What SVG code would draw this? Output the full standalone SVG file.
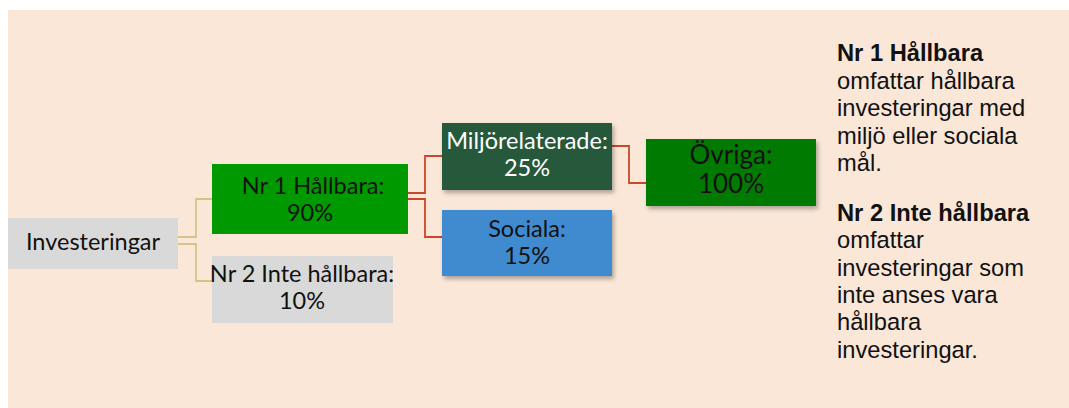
<svg xmlns="http://www.w3.org/2000/svg" width="1069" height="408" viewBox="0 0 1069 408">
<defs>
<style>
.bt{font-family:Lato,"Open Sans","Noto Sans",sans-serif;font-size:23.5px;fill:#111;text-anchor:middle}
.rt{font-family:"Liberation Sans",Arial,sans-serif;font-size:23.7px;fill:#111}
.b{font-weight:bold}
.tan{fill:none;stroke:#D3C48A;stroke-width:1.8}
.red{fill:none;stroke:#C9472B;stroke-width:1.8}
</style>
<filter id="sh" x="-10%" y="-20%" width="125%" height="150%">
<feDropShadow dx="2" dy="3" stdDeviation="2" flood-color="#000" flood-opacity="0.3"/>
</filter>
</defs>
<rect x="0" y="0" width="1069" height="408" fill="#ffffff"/>
<rect x="8" y="10" width="1061" height="398" fill="#FAE7D7"/>
<g id="connectors">
<polyline class="tan" points="178,237 196,237 196,199 212,199"/>
<polyline class="tan" points="178,244 196,244 196,281 212,281"/>
<polyline class="red" points="408,193 425,193 425,156 442,156"/>
<polyline class="red" points="408,199 425,199 425,237 442,237"/>
<polyline class="red" points="612,146 629,146 629,183 646,183"/>
</g>
<g id="investeringar">
<rect x="8" y="218" width="170" height="51" fill="#D9D9D9"/>
<text class="bt" x="93" y="250">Investeringar</text>
</g>
<g id="nr1">
<rect x="212" y="164" width="196" height="70" fill="#009900"/>
<text class="bt" x="313" y="194">Nr 1 Hållbara:</text>
<text class="bt" x="310" y="221">90%</text>
</g>
<g id="nr2">
<rect x="212" y="256" width="181" height="67" fill="#D9D9D9"/>
<text class="bt" x="302" y="282">Nr 2 Inte hållbara:</text>
<text class="bt" x="302" y="309">10%</text>
</g>
<g id="miljo">
<rect x="442" y="123" width="170" height="67" fill="#27583B" filter="url(#sh)"/>
<text class="bt" x="527" y="149" style="fill:#ffffff">Miljörelaterade:</text>
<text class="bt" x="527" y="176" style="fill:#ffffff">25%</text>
</g>
<g id="sociala">
<rect x="442" y="210" width="170" height="66" fill="#3F8BD0" filter="url(#sh)"/>
<text class="bt" x="527" y="237">Sociala:</text>
<text class="bt" x="527" y="264">15%</text>
</g>
<g id="ovriga">
<rect x="646" y="139" width="170" height="67" fill="#007A00" filter="url(#sh)"/>
<text class="bt" x="731" y="164" style="font-size:26px">Övriga:</text>
<text class="bt" x="731" y="193" style="font-size:26px">100%</text>
</g>
<g id="legend">
<text class="rt b" x="837" y="61">Nr 1 Hållbara</text>
<text class="rt" x="837" y="88.5">omfattar hållbara</text>
<text class="rt" x="837" y="116">investeringar med</text>
<text class="rt" x="837" y="143.5">miljö eller sociala</text>
<text class="rt" x="837" y="171">mål.</text>
<text class="rt b" x="837" y="221">Nr 2 Inte hållbara</text>
<text class="rt" x="837" y="248.3">omfattar</text>
<text class="rt" x="837" y="275.6">investeringar som</text>
<text class="rt" x="837" y="302.9">inte anses vara</text>
<text class="rt" x="837" y="330.2">hållbara</text>
<text class="rt" x="837" y="357.5">investeringar.</text>
</g>
</svg>
